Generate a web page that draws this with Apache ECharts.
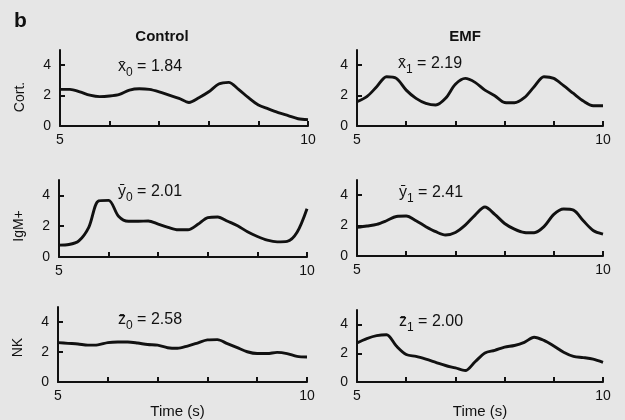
<!DOCTYPE html>
<html>
<head>
<meta charset="utf-8">
<script src="https://cdn.jsdelivr.net/npm/echarts@6/dist/echarts.min.js"></script>
<style>
html,body{margin:0;padding:0;background:#e6e6e6;}
#chart{width:625px;height:420px;}
</style>
</head>
<body>
<div id="chart"></div>
<script>
// ---- data ----
const times = [5.0,5.2,5.4,5.6,5.8,6.0,6.2,6.4,6.6,6.8,7.0,7.2,7.4,7.6,7.8,8.0,8.2,8.4,8.6,8.8,9.0,9.2,9.4,9.6,9.8,10.0];
const cortControl = [2.41,2.41,2.25,2.03,1.93,1.97,2.08,2.36,2.45,2.41,2.25,2.03,1.82,1.55,1.86,2.25,2.76,2.87,2.41,1.86,1.38,1.12,0.88,0.68,0.48,0.42];
const cortEMF     = [1.60,1.93,2.58,3.24,3.13,2.36,1.82,1.49,1.38,1.82,2.74,3.13,2.87,2.36,1.99,1.55,1.53,1.86,2.58,3.24,3.13,2.65,2.14,1.64,1.33,1.33];
const igmControl  = [0.77,0.81,1.05,1.93,3.65,3.68,2.65,2.32,2.32,2.34,2.14,1.93,1.77,1.77,2.12,2.56,2.60,2.32,2.03,1.64,1.33,1.09,0.98,1.01,1.60,3.13];
const igmEMF      = [1.88,1.97,2.08,2.32,2.60,2.63,2.32,1.93,1.60,1.38,1.55,2.03,2.69,3.22,2.74,2.14,1.77,1.55,1.53,1.93,2.74,3.09,3.02,2.32,1.68,1.44];
const nkControl   = [2.63,2.58,2.54,2.46,2.48,2.63,2.67,2.67,2.60,2.50,2.46,2.29,2.25,2.40,2.60,2.81,2.83,2.56,2.29,2.02,1.90,1.90,1.98,1.90,1.71,1.67];
const nkEMF       = [2.72,3.02,3.22,3.28,2.50,1.91,1.78,1.59,1.37,1.15,0.98,0.80,1.41,2.02,2.20,2.43,2.54,2.76,3.11,2.89,2.50,2.07,1.78,1.70,1.59,1.37];

const rowNames = ['Cort.', 'IgM+', 'NK'];
const colTitles = ['Control', 'EMF'];
const meanSymbols = ['x', 'x', 'y', 'y', 'z', 'z'];
const meanSubs = ['0', '1', '0', '1', '0', '1'];
const meanValues = ['1.84', '2.19', '2.01', '2.41', '2.58', '2.00'];
const xTickValues = [5, 6, 7, 8, 9, 10];
const xLabelValues = [5, 10];
const yTickValues = [0, 2, 4];
const xLabelName = 'Time (s)';
const panelLetter = 'b';

const panels = [cortControl, cortEMF, igmControl, igmEMF, nkControl, nkEMF];

// ---- layout ----
const grids = [
  {left: 60,  top: 50,  width: 248, height: 76},
  {left: 357, top: 50,  width: 246, height: 76},
  {left: 59,  top: 180, width: 248, height: 77},
  {left: 357, top: 180, width: 246, height: 76},
  {left: 58,  top: 307, width: 249, height: 80},
  {left: 357, top: 310, width: 246, height: 76}
];
const annotPos = [[118, 69], [398, 66], [118, 194], [399, 195], [118, 322], [399, 324]];
const namePad = [18, 15, 6];

const ink = '#111';
const FF = '"Liberation Sans", Arial, Helvetica, sans-serif';

const xAxes = [], yAxes = [], series = [];
panels.forEach((vals, i) => {
  const row = Math.floor(i / 2), col = i % 2;
  xAxes.push({
    type: 'value', gridIndex: i, min: 5, max: 10,
    axisLine: {show: true, onZero: false, lineStyle: {color: ink, width: 2}},
    axisTick: {show: true, inside: true, length: 5, customValues: xTickValues, lineStyle: {color: ink, width: 2}},
    axisLabel: {customValues: xLabelValues, color: ink, fontSize: 14, fontFamily: FF, margin: 7},
    splitLine: {show: false},
    name: row === 2 ? xLabelName : '',
    nameLocation: 'middle', nameGap: 18,
    nameTextStyle: {color: ink, fontSize: 15, fontFamily: FF, padding: col === 0 ? [0, 10, 0, 0] : 0}
  });
  yAxes.push({
    type: 'value', gridIndex: i, min: 0, max: 5,
    axisLine: {show: true, onZero: false, lineStyle: {color: ink, width: 2}},
    axisTick: {show: true, inside: true, length: 5, customValues: yTickValues, lineStyle: {color: ink, width: 2}},
    axisLabel: {customValues: yTickValues, color: ink, fontSize: 14, fontFamily: FF, margin: 9},
    splitLine: {show: false},
    name: col === 0 ? rowNames[row] : '',
    nameLocation: 'middle', nameGap: 33,
    nameTextStyle: {color: ink, fontSize: 14, fontFamily: FF, padding: [0, namePad[row], 0, 0]}
  });
  series.push({
    type: 'line', xAxisIndex: i, yAxisIndex: i,
    data: times.map((t, k) => [t, vals[k]]),
    showSymbol: false, symbol: 'none', smooth: 0.3,
    lineStyle: {color: ink, width: 2.9},
    silent: true
  });
});

const graphics = [
  {type: 'text', x: 14, y: 11, style: {text: panelLetter, fill: ink, font: 'bold 21px ' + FF, align: 'left', verticalAlign: 'top'}},
  {type: 'text', x: 162, y: 37, style: {text: colTitles[0], fill: ink, font: 'bold 15px ' + FF, align: 'center', verticalAlign: 'middle'}},
  {type: 'text', x: 465, y: 37, style: {text: colTitles[1], fill: ink, font: 'bold 15px ' + FF, align: 'center', verticalAlign: 'middle'}}
];
annotPos.forEach((p, i) => {
  graphics.push({
    type: 'text', x: p[0], y: p[1],
    style: {
      text: '{m|' + meanSymbols[i] + '\u0304}{s|' + meanSubs[i] + '}{m| = ' + meanValues[i] + '}',
      align: 'left', verticalAlign: 'middle',
      rich: {
        m: {fontSize: 16, fontFamily: FF, fill: ink, lineHeight: 20, verticalAlign: 'top'},
        s: {fontSize: 12, fontFamily: FF, fill: ink, lineHeight: 14, verticalAlign: 'bottom'}
      }
    }
  });
});

const chart = echarts.init(document.getElementById('chart'), null, {renderer: 'canvas'});
chart.setOption({
  backgroundColor: '#e6e6e6',
  animation: false,
  grid: grids,
  xAxis: xAxes,
  yAxis: yAxes,
  series: series,
  graphic: graphics
});
</script>
</body>
</html>
